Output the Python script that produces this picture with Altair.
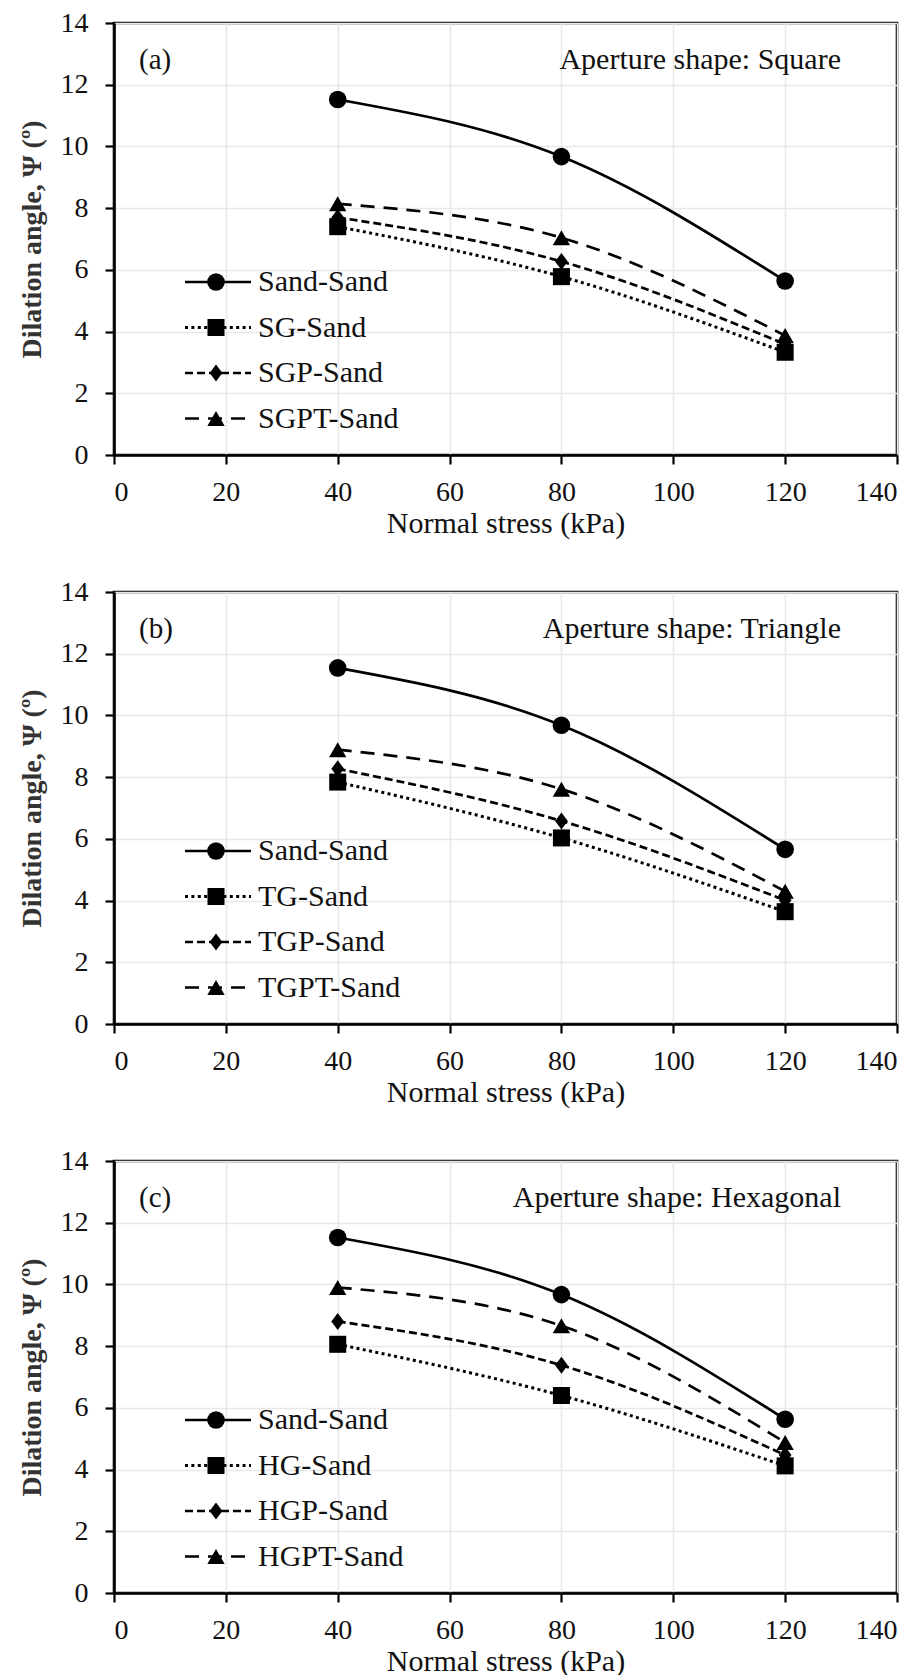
import altair as alt
import pandas as pd

# ---------------- data ----------------
stress = [40, 80, 120]

# panel (a) aperture: square
sq_sand = [11.52, 9.67, 5.64]
sq_sg = [7.40, 5.78, 3.33]
sq_sgp = [7.70, 6.27, 3.59]
sq_sgpt = [8.14, 7.04, 3.87]

# panel (b) aperture: triangle
tr_sand = [11.54, 9.68, 5.66]
tr_tg = [7.84, 6.03, 3.64]
tr_tgp = [8.27, 6.58, 4.01]
tr_tgpt = [8.89, 7.61, 4.30]

# panel (c) aperture: hexagonal
hx_sand = [11.52, 9.67, 5.63]
hx_hg = [8.06, 6.40, 4.12]
hx_hgp = [8.80, 7.38, 4.47]
hx_hgpt = [9.90, 8.66, 4.88]

panel_tags = ["(a)", "(b)", "(c)"]
panel_notes = ["Aperture shape: Square", "Aperture shape: Triangle", "Aperture shape: Hexagonal"]
series_names = [
    ["Sand-Sand", "SG-Sand", "SGP-Sand", "SGPT-Sand"],
    ["Sand-Sand", "TG-Sand", "TGP-Sand", "TGPT-Sand"],
    ["Sand-Sand", "HG-Sand", "HGP-Sand", "HGPT-Sand"],
]
series_values = [
    [sq_sand, sq_sg, sq_sgp, sq_sgpt],
    [tr_sand, tr_tg, tr_tgp, tr_tgpt],
    [hx_sand, hx_hg, hx_hgp, hx_hgpt],
]
x_ticks = [0, 20, 40, 60, 80, 100, 120, 140]
y_ticks = [0, 2, 4, 6, 8, 10, 12, 14]

# ---------------- styles ----------------
W, H = 783, 432
FONT = "Liberation Serif"
TALL_DIAMOND = "M0,-1L0.75,0L0,1L-0.75,0Z"
styles = [
    dict(dash=None, shape="circle", size=310, width=2.7),
    dict(dash=[3, 3.4], shape="square", size=290, width=3.0),
    dict(dash=[8, 4], shape=TALL_DIAMOND, size=290, width=2.7),
    dict(dash=[14, 9], shape="triangle-up", size=300, width=2.7),
]
leg_x1, leg_x2, leg_xm, leg_xt = 71, 137, 102, 144
leg_y0, leg_dy = 259, 45.5

xs = alt.Scale(domain=[0, 140], nice=False, zero=True)
ys = alt.Scale(domain=[0, 14], nice=False, zero=True)
x_axis = alt.Axis(values=x_ticks, title="Normal stress (kPa)", format="d",
                  labelPadding=14, titlePadding=2)
y_axis = alt.Axis(values=y_ticks, title="Dilation angle, Ψ (º)", format="d",
                  labelPadding=17, titlePadding=14)


def panel(k):
    layers = []
    for i, (name, vals) in enumerate(zip(series_names[k], series_values[k])):
        st = styles[i]
        df = pd.DataFrame({"stress": stress, "angle": vals, "series": name})
        line_kw = dict(color="black", strokeWidth=st["width"], interpolate="monotone")
        if st["dash"]:
            line_kw["strokeDash"] = st["dash"]
        base = alt.Chart(df)
        enc = dict(x=alt.X("stress:Q", scale=xs, axis=x_axis),
                   y=alt.Y("angle:Q", scale=ys, axis=y_axis))
        layers.append(base.mark_line(**line_kw).encode(**enc))
        layers.append(base.mark_point(shape=st["shape"], size=st["size"], filled=True,
                                      color="black", opacity=1).encode(**enc))
        # legend row
        ly = leg_y0 + i * leg_dy
        ld = alt.Data(values=[{"series": name}])
        rule_kw = dict(color="black", strokeWidth=st["width"])
        if st["dash"]:
            rule_kw["strokeDash"] = st["dash"]
        layers.append(alt.Chart(ld).mark_rule(**rule_kw).encode(
            x=alt.value(leg_x1), x2=alt.value(leg_x2), y=alt.value(ly)))
        layers.append(alt.Chart(ld).mark_point(shape=st["shape"], size=st["size"], filled=True,
                                               color="black", opacity=1).encode(
            x=alt.value(leg_xm), y=alt.value(ly)))
        layers.append(alt.Chart(ld).mark_text(align="left", baseline="middle", font=FONT,
                                              fontSize=30, color="#111").encode(
            x=alt.value(leg_xt), y=alt.value(ly), text="series:N"))
    td = alt.Data(values=[{"tag": panel_tags[k], "note": panel_notes[k]}])
    layers.append(alt.Chart(td).mark_text(align="left", baseline="middle", font=FONT,
                                          fontSize=29, color="#111").encode(
        x=alt.value(25), y=alt.value(37), text="tag:N"))
    layers.append(alt.Chart(td).mark_text(align="right", baseline="middle", font=FONT,
                                          fontSize=30, color="#111").encode(
        x=alt.value(727), y=alt.value(37), text="note:N"))
    return alt.layer(*layers).properties(width=W, height=H)


chart = alt.vconcat(panel(0), panel(1), panel(2), spacing=137, bounds="flush").properties(
    padding={"left": 16, "top": 7, "right": 5, "bottom": 5}
).configure_axis(
    domainColor="black", domainWidth=2.6, tickColor="black", tickWidth=2.2, tickSize=9,
    gridColor="#e8e8e8", gridWidth=1.5,
    labelFont=FONT, labelFontSize=28, labelColor="#111",
    titleFont=FONT, titleFontSize=30, titleFontWeight="normal", titleColor="#111",
).configure_axisY(
    titleFontWeight="bold", titleColor="#333", titleFontSize=28
).configure_view(
    stroke="black", strokeWidth=2.6
)

chart.save("out.html", embed_options={"renderer": "svg", "actions": False})
